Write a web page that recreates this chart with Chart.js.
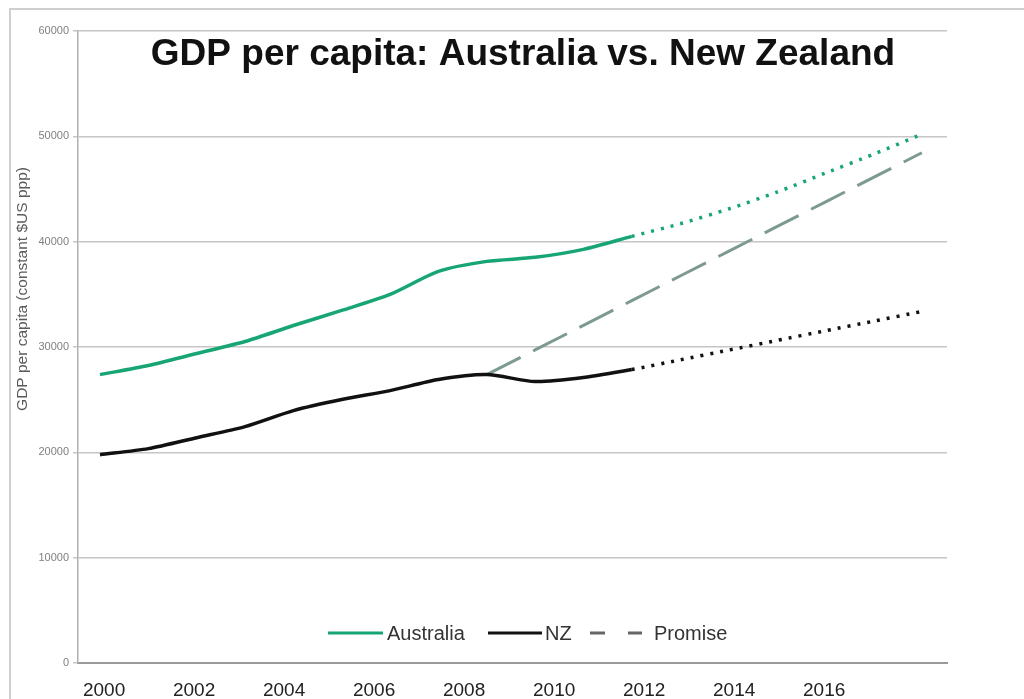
<!DOCTYPE html>
<html>
<head>
<meta charset="utf-8">
<script src="https://cdn.jsdelivr.net/npm/chart.js@4.4.1/dist/chart.umd.min.js"></script>
<style>
  html, body { margin: 0; padding: 0; background: #ffffff; }
  #wrap { width: 1024px; height: 699px; position: relative; }
</style>
</head>
<body>
<div id="wrap"><canvas id="c" width="1024" height="699"></canvas></div>
<script>
// ---- data ----
const years      = [2000, 2001, 2002, 2003, 2004, 2005, 2006, 2007, 2008, 2009, 2010, 2011, 2012, 2013, 2014, 2015, 2016, 2017];
const australia  = [27380, 28240, 29380, 30520, 32040, 33470, 34990, 37180, 38130, 38510, 39270, 40500, 41700, 43100, 44700, 46500, 48300, 50200];
const nz         = [19780, 20350, 21390, 22440, 23960, 25010, 25860, 26910, 27380, 26720, 27100, 27860, 28780, 29700, 30620, 31540, 32450, 33370];
const promise    = [null, null, null, null, null, null, null, null, 27380, 29720, 32060, 34400, 36740, 39080, 41420, 43760, 46100, 48440];
const lastActualYear = 2011;
const xTickLabels = [2000, 2002, 2004, 2006, 2008, 2010, 2012, 2014, 2016];
const yTickValues = [0, 10000, 20000, 30000, 40000, 50000, 60000];
const seriesNames = ['Australia', 'NZ', 'Promise'];
const chartTitle = 'GDP per capita: Australia vs. New Zealand';
const yAxisTitle = 'GDP per capita (constant $US ppp)';

function toPoints(vals) {
  return years.map((y, i) => ({ x: y, y: vals[i] })).filter(p => p.y !== null);
}
const projDash = ctx => (ctx.p0.parsed.x >= lastActualYear ? [3, 7] : undefined);

const GREEN = '#17a673';
const BLACK = '#111111';
const PROMISE = '#7d9a91';
const FONT = '"Liberation Sans", Arial, sans-serif';

const decorPlugin = {
  id: 'decor',
  beforeDraw(chart) {
    const ctx = chart.ctx;
    ctx.save();
    ctx.fillStyle = '#ffffff';
    ctx.fillRect(0, 0, chart.width, chart.height);
    ctx.strokeStyle = '#cfcfcf';
    ctx.lineWidth = 2;
    ctx.strokeRect(10, 9, chart.width + 20, chart.height + 20);
    ctx.restore();
  },
  afterDraw(chart) {
    const ctx = chart.ctx;
    ctx.save();
    // title inside the plot area
    ctx.fillStyle = '#111111';
    ctx.font = 'bold 37px ' + FONT;
    ctx.textAlign = 'center';
    ctx.textBaseline = 'middle';
    ctx.fillText(chartTitle, 523, 55);
    // y axis title
    ctx.save();
    ctx.translate(23, 289);
    ctx.rotate(-Math.PI / 2);
    ctx.font = '15.5px ' + FONT;
    ctx.fillStyle = '#5a5a5a';
    ctx.textAlign = 'center';
    ctx.textBaseline = 'middle';
    ctx.fillText(yAxisTitle, 0, 0);
    ctx.restore();
    // legend inside the plot area
    const ly = 633;
    ctx.font = '20px ' + FONT;
    ctx.textAlign = 'left';
    ctx.textBaseline = 'middle';
    const items = [
      { ds: chart.data.datasets[0], x0: 328, x1: 383, tx: 387 },
      { ds: chart.data.datasets[1], x0: 488, x1: 542, tx: 545 },
      { ds: chart.data.datasets[2], x0: 590, x1: 642, tx: 654, dash: [15, 23] }
    ];
    items.forEach(it => {
      ctx.beginPath();
      ctx.strokeStyle = it.dash ? '#666666' : it.ds.borderColor;
      ctx.lineWidth = 3;
      ctx.setLineDash(it.dash || []);
      ctx.moveTo(it.x0, ly);
      ctx.lineTo(it.x1, ly);
      ctx.stroke();
      ctx.setLineDash([]);
      ctx.fillStyle = '#333333';
      ctx.fillText(it.ds.label, it.tx, ly + 1);
    });
    ctx.restore();
  }
};

new Chart(document.getElementById('c'), {
  type: 'line',
  data: {
    datasets: [
      {
        label: seriesNames[0], data: toPoints(australia), borderColor: GREEN,
        borderWidth: 3.5, pointRadius: 0, tension: 0.25, segment: { borderDash: projDash }, xAxisID: 'x'
      },
      {
        label: seriesNames[1], data: toPoints(nz), borderColor: BLACK,
        borderWidth: 3.5, pointRadius: 0, tension: 0.25, segment: { borderDash: projDash }, xAxisID: 'x'
      },
      {
        label: seriesNames[2], data: toPoints(promise), borderColor: PROMISE,
        borderWidth: 3, pointRadius: 0, tension: 0, borderDash: [38, 14], xAxisID: 'x'
      }
    ]
  },
  options: {
    responsive: false,
    animation: false,
    layout: { padding: { left: 0, top: 31, right: 77, bottom: 0 } },
    plugins: { legend: { display: false }, title: { display: false }, tooltip: { enabled: false } },
    scales: {
      x: {
        type: 'linear', display: false, min: 1999.545, max: 2017.52
      },
      x2: {
        type: 'linear', position: 'bottom', min: 1999.42, max: 2018.73,
        afterBuildTicks: s => { s.ticks = xTickLabels.map(v => ({ value: v })); },
        afterFit: s => { s.height = 36; },
        grid: { display: false, drawTicks: false },
        border: { display: true, color: '#9a9a9a', width: 2 },
        ticks: {
          padding: 16, autoSkip: false, maxRotation: 0,
          color: '#222222', font: { size: 19, family: FONT },
          callback: v => String(v)
        }
      },
      y: {
        type: 'linear', min: 0, max: 60000,
        afterBuildTicks: s => { s.ticks = yTickValues.map(v => ({ value: v })); },
        afterFit: s => { s.width = 78; },
        grid: { color: '#c6c6c6', lineWidth: 1.5, tickLength: 5 },
        border: { display: true, color: '#b0b0b0', width: 1.5 },
        ticks: {
          padding: 4, color: '#808080',
          font: { size: 11, family: FONT },
          callback: v => String(v)
        }
      }
    }
  },
  plugins: [decorPlugin]
});
</script>
</body>
</html>
